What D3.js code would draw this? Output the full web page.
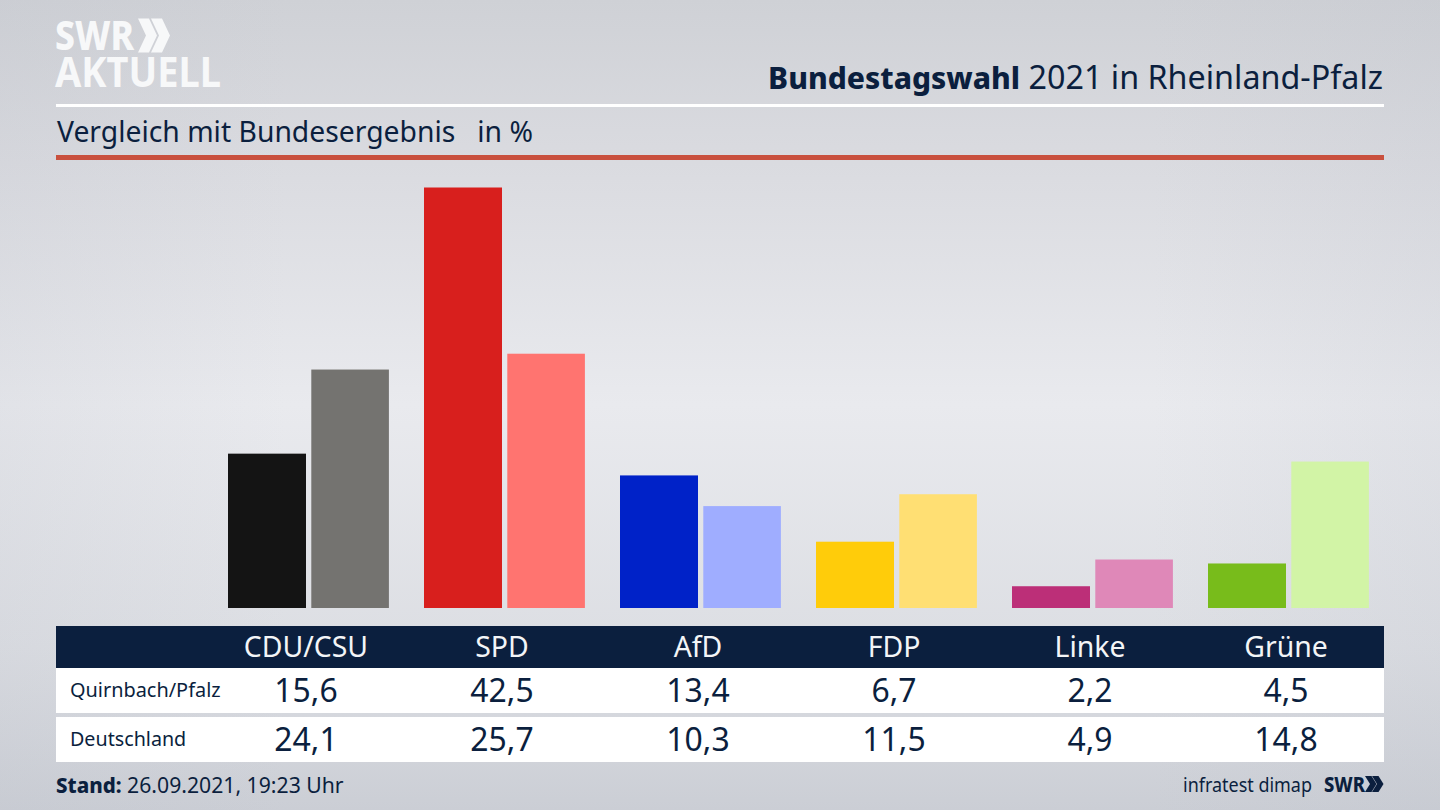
<!DOCTYPE html>
<html><head><meta charset="utf-8">
<script src="https://cdn.jsdelivr.net/npm/d3@7/dist/d3.min.js"></script>
<style>html,body{margin:0;padding:0;background:#d5d7dd;overflow:hidden}svg{display:block}text{font-family:"Noto Sans",sans-serif}</style>
</head><body><svg id="c" width="1440" height="810"></svg>
<script>
const categories=["CDU/CSU","SPD","AfD","FDP","Linke","Grüne"];
const regional=[15.6,42.5,13.4,6.7,2.2,4.5];
const national=[24.1,25.7,10.3,11.5,4.9,14.8];
const regionalColors=["#141414","#d81f1d","#0022c8","#ffcc0a","#bc2f78","#78bc1b"];
const nationalColors=["#747370","#ff7470","#9fadff","#ffdf73","#df88b8","#d2f4a6"];
const rowLabels=["Quirnbach/Pfalz","Deutschland"];
const navy="#0b1f3e";
const fmt=v=>String(v.toFixed(1)).replace(".",",");
const svg=d3.select("#c");
const defs=svg.append("defs");
const vg=defs.append("linearGradient").attr("id","vg").attr("x1",0).attr("x2",0).attr("y1",0).attr("y2",1);
[[0,"#cfd1d6"],[0.2,"#dadbe0"],[0.5,"#e9eaee"],[0.8,"#dcdee3"],[1,"#cbced5"]].forEach(s=>vg.append("stop").attr("offset",s[0]).attr("stop-color",s[1]));
const hg=defs.append("linearGradient").attr("id","hg");
[[0,0.16],[0.2,0],[0.8,0],[1,0.16]].forEach(s=>hg.append("stop").attr("offset",s[0]).attr("stop-color","#b8bcc6").attr("stop-opacity",s[1]));
svg.append("rect").attr("width",1440).attr("height",810).attr("fill","url(#vg)");
svg.append("rect").attr("width",1440).attr("height",810).attr("fill","url(#hg)");

const x=d3.scalePoint().domain(categories).range([306,1286]);
const y=d3.scaleLinear().domain([0,42.5]).range([608,187.5]);
const barW=78,gap=5.3;
const g=svg.append("g");
g.selectAll(".r").data(categories).join("rect").attr("x",d=>x(d)-barW).attr("width",barW)
 .attr("y",(d,i)=>y(regional[i])).attr("height",(d,i)=>y(0)-y(regional[i])).attr("fill",(d,i)=>regionalColors[i]);
g.selectAll(".n").data(categories).join("rect").attr("x",d=>x(d)+gap).attr("width",barW-.4)
 .attr("y",(d,i)=>y(national[i])).attr("height",(d,i)=>y(0)-y(national[i])).attr("fill",(d,i)=>nationalColors[i]);

// header
const chev=(p,x0,y0,w,h,step,t,fill)=>{[0,1].forEach(k=>p.append("path")
 .attr("d",`M${x0+k*step} ${y0}L${x0+k*step+t} ${y0}L${x0+k*step+w} ${y0+h/2}L${x0+k*step+t} ${y0+h}L${x0+k*step} ${y0+h}L${x0+k*step+w-t} ${y0+h/2}Z`).attr("fill",fill));};
svg.append("text").attr("x",55).attr("y",50).attr("font-size",41).attr("font-weight",800).attr("fill","#f7f8f9").attr("textLength",79).attr("lengthAdjust","spacingAndGlyphs").text("SWR");
chev(svg,138,18.5,19,34,13,11,"#f7f8f9");
svg.append("text").attr("x",55).attr("y",87).attr("font-size",42).attr("font-weight",700).attr("fill","#f7f8f9").attr("textLength",166).attr("lengthAdjust","spacingAndGlyphs").text("AKTUELL");
const title=svg.append("text").attr("x",1383).attr("y",89).attr("text-anchor","end").attr("fill",navy);
title.append("tspan").attr("font-weight",800).attr("font-size",30).text("Bundestagswahl");
title.append("tspan").attr("font-size",32.3).text(" 2021 in Rheinland-Pfalz");
svg.append("rect").attr("x",56).attr("y",104).attr("width",1328).attr("height",3).attr("fill","#fff");
svg.append("text").attr("x",57).attr("y",142).attr("font-size",28.3).attr("fill",navy).attr("xml:space","preserve").text("Vergleich mit Bundesergebnis   in %");
svg.append("rect").attr("x",56).attr("y",155).attr("width",1328).attr("height",5).attr("fill","#c9503e");

// table
svg.append("rect").attr("x",56).attr("y",626).attr("width",1328).attr("height",42).attr("fill",navy);
svg.append("rect").attr("x",56).attr("y",668).attr("width",1328).attr("height",45).attr("fill","#fff");
svg.append("rect").attr("x",56).attr("y",717).attr("width",1328).attr("height",45).attr("fill","#fff");
svg.selectAll(".h").data(categories).join("text").attr("x",d=>x(d)).attr("y",657).attr("text-anchor","middle").attr("font-size",28.4).attr("fill","#f3f5f7").text(d=>d);
[regional,national].forEach((arr,r)=>{
 const by=[702,751][r];
 svg.append("text").attr("x",70).attr("y",[697,746][r]).attr("font-size",[19.9,19.7][r]).attr("fill",navy).text(rowLabels[r]);
 svg.selectAll(".v"+r).data(arr).join("text").attr("x",(d,i)=>x(categories[i])).attr("y",by).attr("text-anchor","middle").attr("font-size",31.9).attr("fill",navy).text(fmt);
});
// footer
const st=svg.append("text").attr("x",56).attr("y",793).attr("fill",navy);
st.append("tspan").attr("font-weight",800).attr("font-size",20.5).text("Stand:");
st.append("tspan").attr("font-size",21.2).text(" 26.09.2021, 19:23 Uhr");
svg.append("text").attr("x",1183).attr("y",792).attr("font-size",20).attr("fill",navy).attr("textLength",129).attr("lengthAdjust","spacingAndGlyphs").text("infratest dimap");
svg.append("text").attr("x",1324).attr("y",792).attr("font-size",21).attr("font-weight",800).attr("fill",navy).attr("textLength",41).attr("lengthAdjust","spacingAndGlyphs").text("SWR");
chev(svg,1365,776,11.5,16,7,6.5,navy);
</script></body></html>
